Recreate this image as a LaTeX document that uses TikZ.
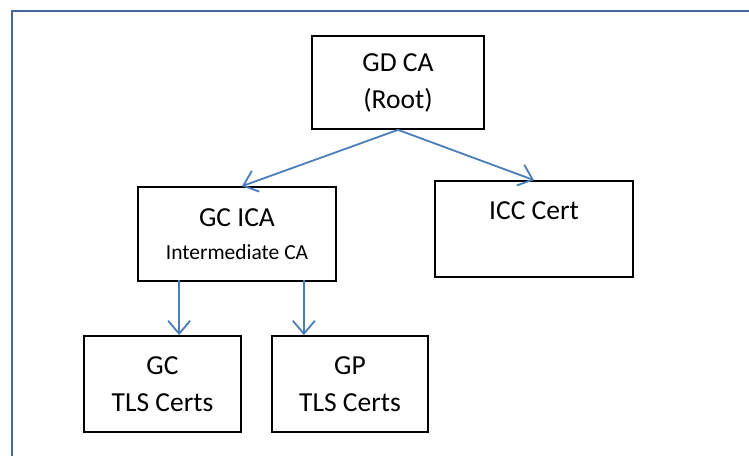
\documentclass[tikz,border=0pt]{standalone}
\usepackage{fontspec}
\setmainfont{Carlito}
\usetikzlibrary{arrows.meta}
\definecolor{framecol}{RGB}{70,103,154}
\definecolor{linkcol}{RGB}{74,126,187}
\tikzset{
  certbox/.style={draw=black, line width=1.7pt, align=center, inner sep=0pt,
    font=\fontsize{27.5}{37}\selectfont},
  link/.style={draw=linkcol, line width=1.8pt,
    -{Straight Barb[length=13pt,width=22pt,line width=1.8pt]}}
}
\begin{document}
\begin{tikzpicture}[x=1pt,y=-1pt]
  \useasboundingbox (0,0) rectangle (749,456);
  % page frame
  \draw[framecol, line width=2pt] (12,456) -- (12,11) -- (749,11);

  % certificate boxes
  \node[certbox, minimum width=172pt, minimum height=93pt] (root) at (398,82.5)
    {GD CA\\(Root)};
  \node[certbox, minimum width=198pt, minimum height=94pt] (ica) at (237,234)
    {GC ICA\\[-4pt]{\fontsize{21.5}{26}\selectfont Intermediate CA}};
  \node[certbox, minimum width=198pt, minimum height=96pt] (icc) at (534,229)
    {ICC Cert\\\mbox{}};
  \node[certbox, minimum width=157pt, minimum height=96pt] (gctls) at (162.5,384)
    {GC\\TLS Certs};
  \node[certbox, minimum width=156pt, minimum height=96pt] (gptls) at (350,384)
    {GP\\TLS Certs};

  % issuing links
  \draw[link] (root.south) -- ([xshift=5pt]ica.north);
  \draw[link] (root.south) -- (icc.north);
  \coordinate (ica-l) at ([xshift=42pt,yshift=2pt]ica.south west);
  \coordinate (ica-r) at ([xshift=-33pt,yshift=2pt]ica.south east);
  \draw[link] (ica-l) -- (ica-l |- gctls.north);
  \draw[link] (ica-r) -- (ica-r |- gptls.north);
\end{tikzpicture}
\end{document}
